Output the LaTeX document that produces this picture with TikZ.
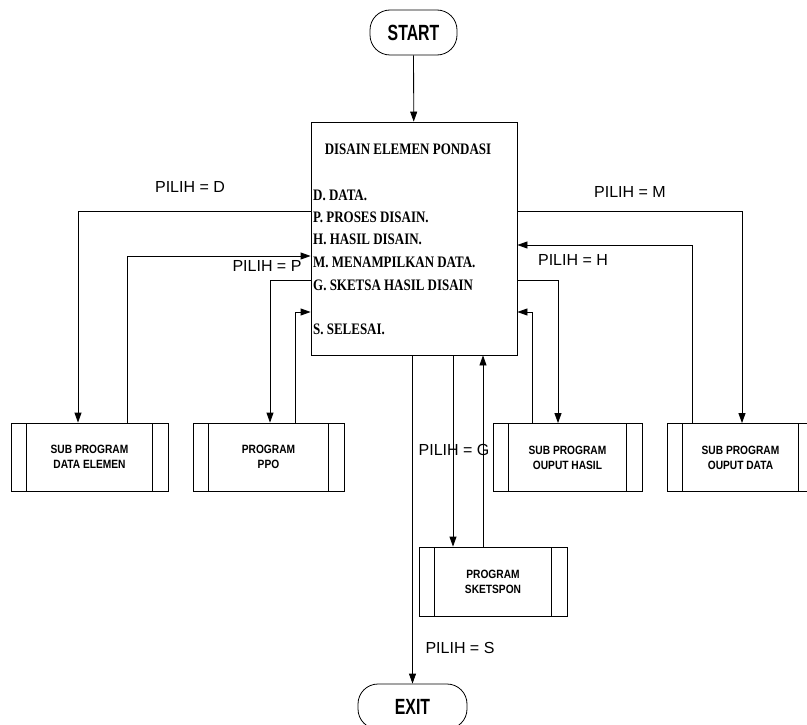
\documentclass[tikz,border=0pt]{standalone}
\usepackage{fontspec}
\setmainfont{Liberation Sans}
\newfontfamily\menufont[FakeStretch=0.81]{Liberation Serif}
\newfontfamily\boxfont[FakeStretch=0.85]{Liberation Sans}
\newfontfamily\termfont[FakeStretch=0.72]{Liberation Sans}
\usetikzlibrary{arrows.meta,calc}
\tikzset{
  arr/.style={line width=0.8pt,-{Triangle[length=10pt,width=7pt]}},
  terminal/.style={draw,line width=0.8pt,rounded corners=20pt,minimum width=#1,minimum height=45pt,
    font=\termfont\bfseries\fontsize{22}{24}\selectfont},
  menubox/.style={draw,line width=0.8pt,minimum width=206pt,minimum height=233pt},
  menuitem/.style={anchor=west,inner sep=0pt,font=\menufont\bfseries\fontsize{16}{18}\selectfont},
  subproc/.style={draw,line width=0.8pt,minimum width=#1,minimum height=68pt,align=center,
    font=\boxfont\bfseries\fontsize{12}{15}\selectfont,
    path picture={
      \draw[line width=0.8pt] ([xshift=15.5pt]path picture bounding box.north west) -- ([xshift=15.5pt]path picture bounding box.south west);
      \draw[line width=0.8pt] ([xshift=-15.5pt]path picture bounding box.north east) -- ([xshift=-15.5pt]path picture bounding box.south east);
    }},
  lbl/.style={inner sep=0pt,font=\fontsize{16}{18}\selectfont}
}
\begin{document}
\begin{tikzpicture}[x=1pt,y=-1pt]
\clip (0,0) rectangle (807,725);
\fill[white] (0,0) rectangle (807,725);

\node[terminal=87pt] (start) at (413.5,32.5) {START};
\node[menubox] (main) at (414,238.5) {};
\node[inner sep=0pt,font=\menufont\bfseries\fontsize{16}{18}\selectfont] (title) at (408,149) {DISAIN ELEMEN PONDASI};
\node[menuitem] (itD) at (313,195) {D. DATA.};
\node[menuitem] (itP) at (313,217) {P. PROSES DISAIN.};
\node[menuitem] (itH) at (313,239) {H. HASIL DISAIN.};
\node[menuitem] (itM) at (313,262) {M. MENAMPILKAN DATA.};
\node[menuitem] (itG) at (313,285) {G. SKETSA HASIL DISAIN};
\node[menuitem] (itS) at (313,329) {S. SELESAI.};

\node[subproc=157pt] (deleme) at (89.5,457) {SUB PROGRAM\\DATA ELEMEN};
\node[subproc=151pt] (ppo) at (268.5,457) {PROGRAM\\PPO};
\node[subproc=149pt] (ohasil) at (567.5,457.5) {SUB PROGRAM\\OUPUT HASIL};
\node[subproc=147pt] (odata) at (740.5,457.5) {SUB PROGRAM\\OUPUT DATA};
\node[subproc=148pt,minimum height=69pt] (sket) at (493,581.5) {PROGRAM\\SKETSPON};
\node[terminal=109pt] (exit) at (412.5,706.5) {EXIT};

\draw[arr] (start) -- (main);

\draw[arr] (main.west |- 0,211) -| (deleme.north -| 78,0);
\draw[arr] (deleme.north -| 127,0) |- (main.west |- 0,256);
\draw[arr] (main.west |- 0,280) -| (ppo.north -| 270,0);
\draw[arr] (ppo.north -| 295,0) |- (main.west |- 0,312);

\draw[arr] (main.east |- 0,211) -| (odata.north -| 742,0);
\draw[arr] (odata.north -| 692,0) |- (main.east |- 0,245);
\draw[arr] (main.east |- 0,280) -| (ohasil.north -| 558,0);
\draw[arr] (ohasil.north -| 532,0) |- (main.east |- 0,312);

\draw[arr] (main.south -| 453,0) -- (sket.north -| 453,0);
\draw[arr] (sket.north -| 483,0) -- (main.south -| 483,0);
\draw[arr] (main.south -| 412.5,0) -- (exit.north);

\node[lbl] (lD) at (190,187) {PILIH = D};
\node[lbl] (lP) at (267,266) {PILIH = P};
\node[lbl] (lM) at (630,192) {PILIH = M};
\node[lbl] (lH) at (573,260) {PILIH = H};
\node[lbl] (lG) at (454,450) {PILIH = G};
\node[lbl] (lS) at (460,648) {PILIH = S};
\end{tikzpicture}
\end{document}
